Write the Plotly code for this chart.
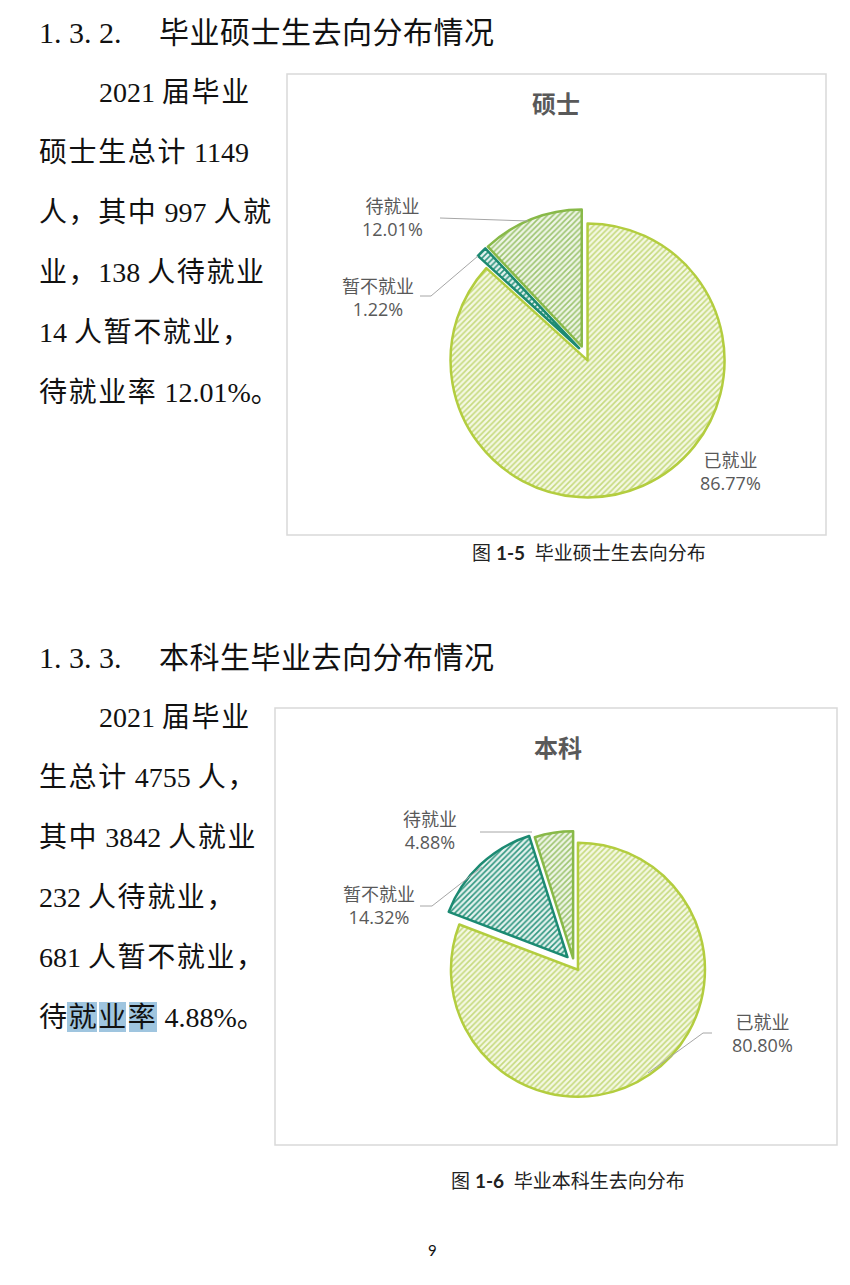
import re
import plotly.graph_objects as go

W, H = 850, 1285
OFF = 8  # page body margin of the html document

# ---------------- data ----------------
categories = ["已就业", "暂不就业", "待就业"]
master_counts = [997, 14, 138]
bachelor_counts = [3842, 681, 232]
chart_titles = ["硕士", "本科"]
caption_nums = ["1-5", "1-6"]
caption_texts = ["毕业硕士生去向分布", "毕业本科生去向分布"]
section_nums = ["1. 3. 2.", "1. 3. 3."]
section_titles = ["毕业硕士生去向分布情况", "本科生毕业去向分布情况"]
para1_lines = ["2021 届毕业", "硕士生总计 1149", "人，其中 997 人就", "业，138 人待就业",
               "14 人暂不就业，", "待就业率 12.01%。"]
para2_lines = ["2021 届毕业", "生总计 4755 人，", "其中 3842 人就业", "232 人待就业，",
               "681 人暂不就业，", "待就业率 4.88%。"]
page_number = "9"

# ---------------- helpers ----------------
def fx(x):
    return (x - OFF) / W

def fy(y):
    return 1 - (y - OFF) / H

CJK = r'[\u3000-\u303f\u4e00-\u9fff\uff00-\uffef]'

def spaced(s, ls):
    out = []
    for run in re.findall(CJK + r'+|(?:(?!' + CJK + r').)+', s):
        if re.match(CJK, run):
            out.append(f'<span style="letter-spacing:{ls}px">{run}</span>')
        else:
            out.append(run)
    return "".join(out)

line_colors = ["#b3cd3f", "#1c8a72", "#88b948"]
pat_fg = ["#c6da7e", "#2f967f", "#9dc470"]
pat_bg = ["#f4f8e3", "#e4f2ee", "#eef5e6"]

fig = go.Figure()
annotations = []
shapes = []

# chart geometry (pixels)
charts = [
    dict(counts=master_counts, cx=584.5, cy=353.5, r=137, pull=[0.055, 0.055, 0.055],
         box=(287, 74, 826, 535), title_xy=(556, 103),
         label_xy=[(730, 471), (378, 297), (392, 218)],
         leaders=[None, [(420, 296), (431, 296), (478, 256)], [(440, 218), (528, 221)]],
         caption_xy=(589, 552)),
    dict(counts=bachelor_counts, cx=574, cy=964, r=127, pull=[0.055, 0.075, 0.045],
         box=(275, 708, 837, 1145), title_xy=(558, 746),
         label_xy=[(762, 1033), (379, 905), (430, 831)],
         leaders=[[(712, 1033), (703, 1033), (648, 1073)], [(420, 906), (432, 906), (482, 867)],
                  [(480, 832), (532, 832)]],
         caption_xy=(568, 1180)),
]

for i, ch in enumerate(charts):
    x0, y0, x1, y1 = ch["box"]
    shapes.append(dict(type="rect", xref="paper", yref="paper", x0=fx(x0), x1=fx(x1),
                       y0=fy(y1), y1=fy(y0), line=dict(color="#d9d9d9", width=1.5),
                       fillcolor="white", layer="below"))
    half = ch["r"] * (1 + max(ch["pull"]))
    fig.add_trace(go.Pie(
        labels=categories, values=ch["counts"], sort=False, direction="clockwise",
        rotation=0, pull=ch["pull"], textinfo="none", hoverinfo="skip", showlegend=False,
        domain=dict(x=[fx(ch["cx"] - half), fx(ch["cx"] + half)],
                    y=[fy(ch["cy"] + half), fy(ch["cy"] - half)]),
        marker=dict(colors=pat_bg, line=dict(color=line_colors, width=2.5),
                    pattern=dict(shape="/", fgcolor=pat_fg, bgcolor=pat_bg,
                                 size=4, solidity=0.4)),
    ))
    tx, ty = ch["title_xy"]
    annotations.append(dict(text=f"<b>{chart_titles[i]}</b>", x=fx(tx), y=fy(ty),
                            xref="paper", yref="paper", showarrow=False,
                            xanchor="center", yanchor="middle",
                            font=dict(family="Noto Sans CJK SC", size=24, color="#595959")))
    total = sum(ch["counts"])
    for j, cat in enumerate(categories):
        pct = ch["counts"][j] / total * 100
        lx, ly = ch["label_xy"][j]
        annotations.append(dict(text=f"{cat}<br>{pct:.2f}%", x=fx(lx), y=fy(ly),
                                xref="paper", yref="paper", showarrow=False,
                                xanchor="center", yanchor="middle",
                                font=dict(family="Open Sans, Noto Sans CJK SC", size=18,
                                          color="#595959")))
        pts = ch["leaders"][j]
        if pts:
            path = "M " + " L ".join(f"{fx(px)},{fy(py)}" for px, py in pts)
            shapes.append(dict(type="path", xref="paper", yref="paper", path=path,
                               line=dict(color="#a6a6a6", width=1)))
    cx_, cy_ = ch["caption_xy"]
    annotations.append(dict(text=f"图 <b>{caption_nums[i]}</b>  {caption_texts[i]}",
                            x=fx(cx_), y=fy(cy_), xref="paper", yref="paper",
                            showarrow=False, xanchor="center", yanchor="middle",
                            font=dict(family="Lato, Noto Sans CJK SC", size=19,
                                      color="#222222")))

# section headings
for num, title, y in zip(section_nums, section_titles, [32, 657]):
    annotations.append(dict(text=num, x=fx(37), y=fy(y), xref="paper", yref="paper",
                            showarrow=False, xanchor="left", yanchor="middle",
                            font=dict(family="Liberation Serif", size=30, color="#111111")))
    annotations.append(dict(text=spaced(title, 0.5), x=fx(157), y=fy(y), xref="paper",
                            yref="paper", showarrow=False, xanchor="left", yanchor="middle",
                            font=dict(family="Liberation Serif, Noto Sans CJK SC", size=30,
                                      color="#111111")))

# paragraph highlight ("就业率" in last line of the second paragraph)
for hx0, hx1 in [(67, 97), (99, 126), (129, 157)]:
    shapes.append(dict(type="rect", xref="paper", yref="paper", x0=fx(hx0), x1=fx(hx1),
                       y0=fy(1032), y1=fy(1002), fillcolor="#9fc5df",
                       line=dict(width=0), layer="below"))

# paragraphs
for lines, ys in [(para1_lines, [93, 152, 213, 273, 332, 392]),
                  (para2_lines, [717, 777, 837, 897, 957, 1017])]:
    for k, (ln, y) in enumerate(zip(lines, ys)):
        x = 97 if k == 0 else 37
        annotations.append(dict(text=spaced(ln, 1.6), x=fx(x), y=fy(y), xref="paper",
                                yref="paper", showarrow=False, xanchor="left",
                                yanchor="middle",
                                font=dict(family="Liberation Serif, Noto Sans CJK SC",
                                          size=28, color="#111111")))

annotations.append(dict(text=page_number, x=fx(432), y=fy(1250), xref="paper", yref="paper",
                        showarrow=False, xanchor="center", yanchor="middle",
                        font=dict(family="Lato", size=15, color="#111111")))

fig.update_layout(width=W, height=H, autosize=False,
                  margin=dict(l=0, r=0, t=0, b=0),
                  paper_bgcolor="white", plot_bgcolor="white",
                  annotations=annotations, shapes=shapes)

fig.write_html("out.html")
